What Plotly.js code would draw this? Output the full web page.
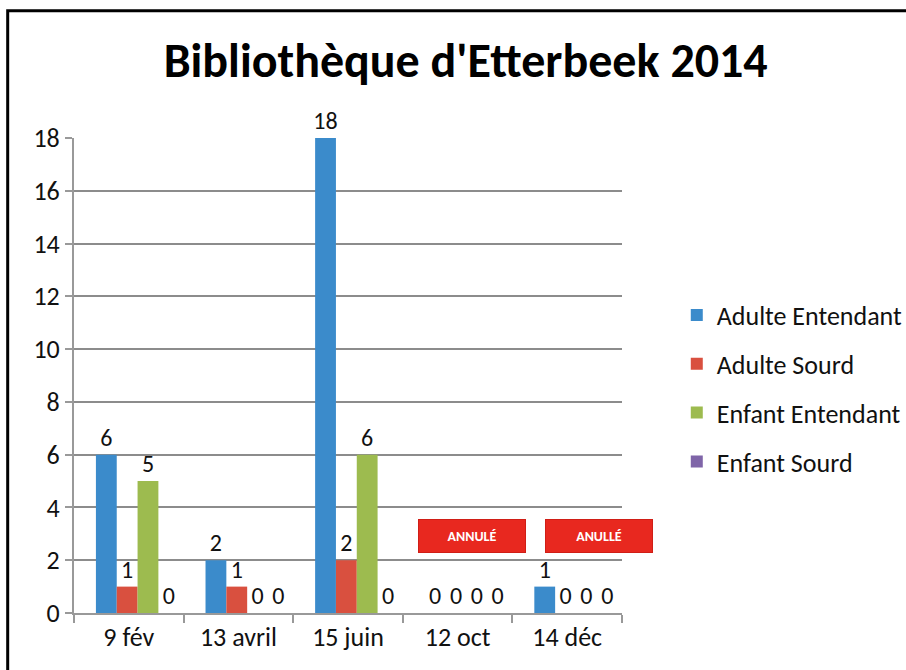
<!DOCTYPE html>
<html>
<head>
<meta charset="utf-8">
<script src="https://cdn.plot.ly/plotly-3.0.1.min.js"></script>
<style>
  html, body { margin: 0; padding: 0; background: #fff; }
  #chart { width: 906px; height: 670px; }
</style>
</head>
<body>
<div id="chart"></div>
<script>
const dates = ['9 fév', '13 avril', '15 juin', '12 oct', '14 déc'];

const adulteEntendant = [6, 2, 18, 0, 1];
const adulteSourd     = [1, 1, 2, 0, 0];
const enfantEntendant = [5, 0, 6, 0, 0];
const enfantSourd     = [0, 0, 0, 0, 0];

const seriesNames  = ['Adulte Entendant', 'Adulte Sourd', 'Enfant Entendant', 'Enfant Sourd'];
const seriesValues = [adulteEntendant, adulteSourd, enfantEntendant, enfantSourd];

// dates annulées (index dans dates) et texte du bandeau
const cancelledIdx    = [3, 4];
const cancelledLabels = ['ANNULÉ', 'ANULLÉ'];

const colors   = ['#3B8BCB', '#D9503F', '#9DBB4F', '#7F65A8'];
const barWidth = 0.19;
const barStart = -0.30;   // décalage du premier bar (effet 3D Excel)
const boxShift = [0.13, 0.29];

const font = 'Carlito, Calibri, Lato, sans-serif';

const traces = seriesValues.map((vals, i) => ({
    type: 'bar',
    name: seriesNames[i],
    x: dates,
    y: vals,
    width: barWidth,
    offset: barStart + i * barWidth,
    text: vals.map(String),
    textposition: 'outside',
    constraintext: 'none',
    textfont: { family: font, size: 24, color: '#111' },
    cliponaxis: false,
    legendgroup: 'g' + i,
    marker: { color: colors[i], line: { width: 0 } }
}));

const annotations = cancelledIdx.map((idx, k) => ({
    xref: 'x', yref: 'y',
    x: idx + boxShift[k], y: 2.9,
    text: '<b>' + cancelledLabels[k] + '</b>',
    showarrow: false,
    font: { family: font, size: 14, color: '#fff' },
    bgcolor: '#E8281F',
    bordercolor: '#D01E16',
    borderwidth: 1,
    width: 104, height: 30
}));

const layout = {
    width: 906, height: 670,
    margin: { l: 74, r: 284, t: 138, b: 57 },
    paper_bgcolor: '#fff',
    plot_bgcolor: '#fff',
    font: { family: font, color: '#111' },
    title: {
        text: "<b>Bibliothèque d'Etterbeek 2014</b>",
        font: { family: font, size: 48, color: '#000' },
        x: 0.514, xanchor: 'center', y: 0.91, yanchor: 'middle'
    },
    barmode: 'group',
    xaxis: {
        type: 'category',
        range: [-0.5, 4.5],
        tickfont: { family: font, size: 26 },
        showline: true, linecolor: '#999', linewidth: 2,
        ticks: 'outside', tickson: 'boundaries', ticklen: 8, tickcolor: '#999', tickwidth: 2,
        showgrid: false
    },
    yaxis: {
        range: [0, 18],
        dtick: 2,
        tickfont: { family: font, size: 26 },
        showline: true, linecolor: '#999', linewidth: 2,
        ticks: 'outside', ticklen: 7, tickcolor: '#999', tickwidth: 2,
        showgrid: true, gridcolor: '#8c8c8c', gridwidth: 2,
        zeroline: false
    },
    legend: {
        xref: 'container', yref: 'container',
        x: 0.747, xanchor: 'left', y: 0.42, yanchor: 'middle',
        font: { family: font, size: 26 },
        traceorder: 'grouped',
        tracegroupgap: 12
    },
    shapes: [{
        type: 'rect', xref: 'paper', yref: 'paper',
        x0: -0.121, x1: 2, y0: -0.3, y1: 1.268,
        line: { color: '#000', width: 3 }
    }],
    annotations: annotations
};

Plotly.newPlot('chart', traces, layout, { displayModeBar: false });
</script>
</body>
</html>
